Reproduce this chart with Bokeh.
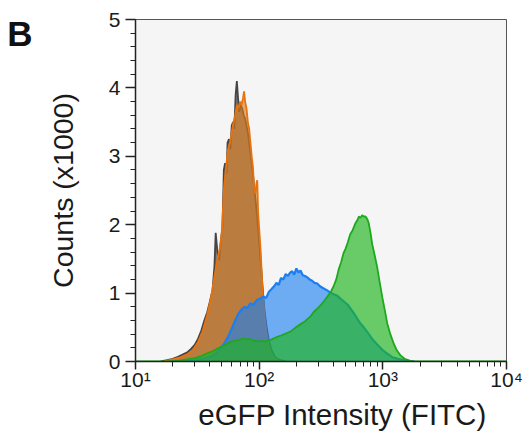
from bokeh.plotting import figure
from bokeh.models import Range1d, LogTicker, SingleIntervalTicker, FixedTicker, LinearAxis, LogAxis
from bokeh.embed import file_html
from bokeh.resources import INLINE

# ---- data (counts in thousands vs eGFP intensity) ----
grey_x = [16, 18, 20, 22, 24, 26, 28, 30, 32, 34, 36, 38, 40, 42, 43.5, 44.5, 46, 47.5, 49, 50.5,
          51.8, 53, 54.5, 55.5, 57, 58.5, 60, 61.5, 63, 64.5, 66, 67.5, 69, 71, 73, 75, 77, 79, 81, 83,
          85, 87, 89, 91, 93, 96, 99, 103, 107, 110, 115, 120, 126, 133, 140, 150, 165]
grey_y = [0, 0.02, 0.04, 0.07, 0.1, 0.13, 0.18, 0.24, 0.33, 0.45, 0.6, 0.72, 0.88, 1.05, 1.4, 1.88, 1.6, 1.48, 1.75, 1.98,
          2.8, 2.9, 2.75, 3.2, 3.25, 3.1, 3.45, 3.5, 3.4, 3.9, 4.1, 3.85, 3.65, 3.75, 3.7, 3.6, 3.55, 3.45, 3.35, 3.2,
          3.05, 2.9, 2.75, 2.55, 2.4, 2.15, 1.85, 1.45, 1.05, 0.78, 0.5, 0.3, 0.17, 0.08, 0.04, 0.02, 0]

orange_x = [17, 20, 23, 26, 29, 32, 35, 38, 41, 44, 46, 48, 50, 52, 54, 56, 58, 60, 62, 64,
            66, 68, 70, 72, 74, 75.5, 77, 79, 81, 83, 85, 87, 89, 91, 93, 95, 96.5, 98, 100, 103,
            106, 110, 114, 119, 125, 132, 140, 150]
orange_y = [0, 0.03, 0.06, 0.1, 0.16, 0.28, 0.45, 0.68, 0.95, 1.3, 1.5, 1.65, 1.9, 2.55, 2.85, 3.1, 3.2, 3.35, 3.5, 3.6,
            3.75, 3.7, 3.8, 3.75, 3.85, 3.95, 3.8, 3.7, 3.5, 3.4, 3.2, 3.0, 2.85, 2.55, 2.45, 2.6, 2.65, 2.2, 1.95, 1.6,
            1.1, 0.72, 0.45, 0.25, 0.12, 0.05, 0.02, 0]

blue_x = [20, 25, 30, 35, 40, 44, 48, 52, 56, 60, 64, 68, 72, 76, 80, 85, 90, 96, 102, 108,
          114, 120, 126, 132, 138, 144, 150, 157, 164, 171, 178, 185, 192, 200, 208, 216, 225, 235, 245, 256,
          268, 280, 295, 310, 330, 355, 380, 405, 430, 460, 490, 520, 560, 600, 650, 700, 750, 820, 900, 990,
          1080, 1200, 1390, 1600, 1800]
blue_y = [0, 0.01, 0.02, 0.04, 0.07, 0.11, 0.18, 0.26, 0.36, 0.48, 0.6, 0.7, 0.76, 0.8, 0.78, 0.85, 0.83, 0.9, 0.92, 0.95,
          0.93, 1.02, 1.06, 1.1, 1.15, 1.12, 1.22, 1.2, 1.28, 1.25, 1.3, 1.32, 1.27, 1.36, 1.3, 1.33, 1.26, 1.25, 1.23, 1.2,
          1.18, 1.15, 1.14, 1.1, 1.07, 1.04, 1.0, 0.98, 0.96, 0.91, 0.87, 0.83, 0.75, 0.67, 0.57, 0.5, 0.43, 0.33, 0.25, 0.17,
          0.12, 0.06, 0.03, 0.01, 0]

green_x = [10, 18, 22, 26, 30, 34, 38, 42, 46, 50, 54, 58, 62, 66, 70, 74, 78, 83, 88, 94, 100,
           106, 112, 118, 125, 132, 140, 150, 160, 170, 180, 192, 205, 218, 232, 245, 260, 275, 290, 305, 320,
           340, 360, 380, 400, 420, 440, 460, 480, 500, 520, 545, 570, 600, 620, 640, 660, 680, 700, 725, 750,
           770, 795, 820, 860, 900, 945, 990, 1040, 1085, 1150, 1226, 1300, 1390, 1500, 1670, 1800, 10000]
green_y = [0, 0, 0.01, 0.03, 0.05, 0.08, 0.12, 0.15, 0.19, 0.22, 0.25, 0.28, 0.3, 0.31, 0.32, 0.34, 0.32, 0.33, 0.31, 0.3, 0.29,
           0.3, 0.29, 0.31, 0.32, 0.34, 0.36, 0.38, 0.4, 0.42, 0.44, 0.48, 0.52, 0.55, 0.58, 0.62, 0.66, 0.72, 0.76, 0.8, 0.84,
           0.9, 0.96, 1.02, 1.1, 1.2, 1.35, 1.45, 1.58, 1.65, 1.74, 1.86, 1.92, 2.02, 2.06, 2.12, 2.1, 2.14, 2.12, 2.12, 2.08,
           2.02, 1.88, 1.72, 1.55, 1.38, 1.15, 0.94, 0.74, 0.56, 0.4, 0.26, 0.16, 0.09, 0.04, 0.01, 0, 0]

x_tick_values = [10, 100, 1000, 10000]
x_tick_labels = ["10\u00b9", "10\u00b2", "10\u00b3", "10\u2074"]
panel_letter = "B"
x_title = "eGFP Intensity (FITC)"
y_title = "Counts (x1000)"

FONT = "Liberation Sans"
TXT = "#1a1a1a"

p = figure(width=531, height=435, x_axis_type="log",
           x_range=Range1d(10, 10000), y_range=Range1d(0, 5),
           output_backend="svg", toolbar_location=None,
           min_border_left=135, min_border_right=25, min_border_top=19, min_border_bottom=74,
           background_fill_color="#f5f5f5", border_fill_color="white")
p.outline_line_color = "#555555"
p.outline_line_width = 1
p.grid.visible = False

series = [
    (grey_x, grey_y, "#6a6a6a", 0.85, "#454545", 1.8),
    (orange_x, orange_y, "#e07a18", 0.62, "#e8730e", 1.8),
    (blue_x, blue_y, "#1a7ff0", 0.62, "#1b7ff0", 2.2),
    (green_x, green_y, "#1fb41f", 0.66, "#1ea81e", 1.8),
]
for xs, ys, fc, fa, lc, lw in series:
    p.varea(x=xs, y1=0, y2=ys, fill_color=fc, fill_alpha=fa)
    p.line(xs, ys, line_color=lc, line_width=lw)

# y axis
ya = p.yaxis[0]
ya.ticker = SingleIntervalTicker(interval=1, num_minor_ticks=5)
ya.major_tick_out = 10
ya.major_tick_in = 0
ya.minor_tick_out = 5
ya.minor_tick_in = 0
ya.major_label_standoff = 5
ya.major_label_text_font = FONT
ya.major_label_text_font_size = "21px"
ya.major_label_text_color = TXT
ya.axis_line_width = 1.5
ya.axis_line_color = "#222222"
ya.major_tick_line_color = "#222222"
ya.minor_tick_line_color = "#222222"
ya.major_tick_line_width = 1.5
ya.axis_label = y_title
ya.axis_label_text_font = FONT
ya.axis_label_text_font_size = "28.5px"
ya.axis_label_text_font_style = "normal"
ya.axis_label_text_color = TXT
ya.axis_label_standoff = 27

# x axis
xa = p.xaxis[0]
xa.ticker = LogTicker(mantissas=[1], num_minor_ticks=10)
xa.major_label_overrides = {v: s for v, s in zip(x_tick_values, x_tick_labels)}
xa.major_tick_out = 8
xa.major_tick_in = 0
xa.minor_tick_out = 5
xa.minor_tick_in = 0
xa.major_label_standoff = -2
xa.major_label_text_font = FONT
xa.major_label_text_font_size = "21px"
xa.major_label_text_color = TXT
xa.axis_line_width = 1.5
xa.axis_line_color = "#222222"
xa.major_tick_line_color = "#222222"
xa.minor_tick_line_color = "#222222"
xa.major_tick_line_width = 1.5

# x-axis title (centred a little right of the frame centre, as in the figure)
x_title_pos = 472
xt = LogAxis(ticker=FixedTicker(ticks=[x_title_pos]), major_label_overrides={x_title_pos: x_title},
             axis_line_color=None, major_tick_line_color=None, minor_tick_line_color=None,
             major_tick_out=0, major_tick_in=0, minor_tick_out=0, minor_tick_in=0,
             major_label_standoff=4, major_label_text_font=FONT, major_label_text_font_size="29.5px",
             major_label_text_color=TXT)
p.add_layout(xt, "below")

# panel letter at upper left
b_pos = 4.79
yb = LinearAxis(ticker=FixedTicker(ticks=[b_pos]), major_label_overrides={b_pos: panel_letter},
                axis_line_color=None, major_tick_line_color=None, minor_tick_line_color=None,
                major_tick_out=0, major_tick_in=0, minor_tick_out=0, minor_tick_in=0,
                major_label_standoff=11, major_label_text_font=FONT, major_label_text_font_size="35px",
                major_label_text_font_style="bold", major_label_text_color="#111111")
p.add_layout(yb, "left")

open("out.html", "w").write(file_html(p, INLINE))
